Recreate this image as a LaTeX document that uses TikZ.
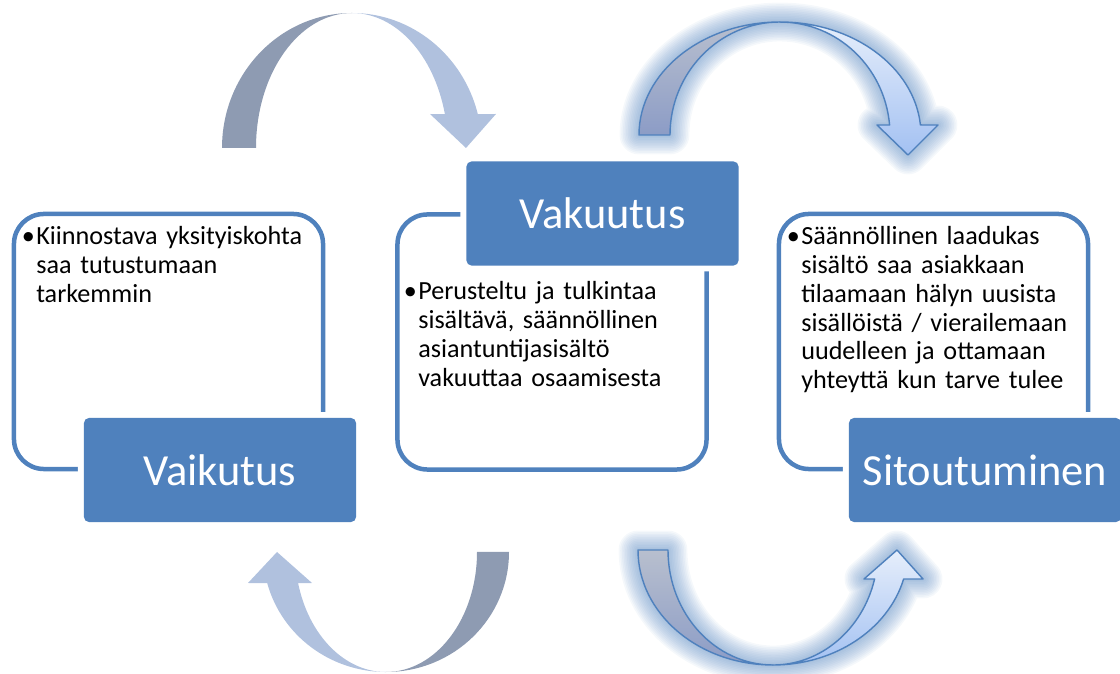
\documentclass[tikz,border=0pt]{standalone}
\usepackage{fontspec}
\setmainfont{Carlito}
\definecolor{boxBlue}{HTML}{4F81BD}
\definecolor{arrowDark}{HTML}{8E9BB2}
\definecolor{arrowLight}{HTML}{B0C1DE}
\definecolor{glowDarkTop}{HTML}{B8BFCE}
\definecolor{glowDarkBottom}{HTML}{8C9CC6}
\definecolor{glowLightTop}{HTML}{E6EEFB}
\definecolor{glowLightBottom}{HTML}{A3C1F2}
\tikzset{
  textframe/.style={draw=boxBlue, line width=3.2pt, rounded corners=0.75cm,
    minimum width=7.725cm, minimum height=6.375cm, inner sep=0pt},
  titlebox/.style={fill=boxBlue, preaction={draw=white, line width=8.5pt},
    rounded corners=0.125cm, minimum width=6.8cm, minimum height=2.6cm,
    inner sep=0pt, text=white, font=\fontsize{31.6}{38}\selectfont},
  bodytext/.style={anchor=base west, align=left, text width=8cm,
    inner sep=0pt, font=\fontsize{18.6}{20.4}\selectfont},
  arrow edge/.style={draw=boxBlue, line width=1pt, line join=round}
}
\newcommand{\bulletmark}{\llap{\makebox[0.36cm][l]{\textbullet}}}
% glow round an outlined arrow
\newcommand{\glowpart}[1]{%
  \foreach \w in {1,...,12}
    {\draw[boxBlue, line width=\w*2.3pt, opacity=0.055, line join=round] #1;}%
}
% arrow parts, in pixels of the slide
\newcommand{\tlDark}{(222,148) arc[start angle=180, end angle=270, x radius=130, y radius=135]
  arc[start angle=270, end angle=180, x radius=96, y radius=135] -- cycle}
\newcommand{\tlLight}{(352,13) arc[start angle=270, end angle=345.5, x radius=130, y radius=135]
  -- (496,114) -- (466,148) -- (430,114) -- (444.9,114.2)
  arc[start angle=345.5, end angle=270, x radius=96, y radius=135] -- cycle}
\newcommand{\trDark}{(639,135) arc[start angle=180, end angle=270, x radius=141, y radius=113]
  arc[start angle=270, end angle=180, x radius=110, y radius=113] -- cycle}
\newcommand{\trLight}{(780,22) arc[start angle=270, end angle=354.9, x radius=141, y radius=113]
  -- (938,125) -- (908,155) -- (877,125) -- (889.6,125)
  arc[start angle=354.9, end angle=270, x radius=110, y radius=113] -- cycle}
\newcommand{\blDark}{(509,552) arc[start angle=0, end angle=90, x radius=123, y radius=120]
  arc[start angle=90, end angle=0, x radius=91, y radius=120] -- cycle}
\newcommand{\blLight}{(386,672) arc[start angle=90, end angle=165, x radius=123, y radius=120]
  -- (248,583) -- (277,552) -- (312,583) -- (298.1,583.1)
  arc[start angle=165, end angle=90, x radius=91, y radius=120] -- cycle}
\newcommand{\brDark}{(638,550) arc[start angle=180, end angle=90, x radius=135, y radius=115]
  arc[start angle=90, end angle=180, x radius=105, y radius=115] -- cycle}
\newcommand{\brLight}{(773,665) arc[start angle=90, end angle=14.6, x radius=135, y radius=115]
  -- (923,579) -- (897,550) -- (864,579) -- (874.6,579)
  arc[start angle=14.6, end angle=90, x radius=105, y radius=115] -- cycle}

\begin{document}
\begin{tikzpicture}[x=0.025cm, y=-0.025cm]
\useasboundingbox (0,0) rectangle (1120,674);

% plain arrows on the left
\fill[arrowDark] \tlDark;
\fill[arrowLight] \tlLight;
\fill[arrowDark] \blDark;
\fill[arrowLight] \blLight;

% glowing arrows on the right
\glowpart{\trDark \trLight}
\glowpart{\brDark \brLight}
\shade[top color=glowDarkTop, bottom color=glowDarkBottom, arrow edge] \trDark;
\shade[top color=glowLightTop, bottom color=glowLightBottom, arrow edge] \trLight;
\shade[top color=glowDarkTop, bottom color=glowDarkBottom, arrow edge] \brDark;
\shade[top color=glowLightTop, bottom color=glowLightBottom, arrow edge] \brLight;

% frames with their text
\node[textframe] (vaikutusframe) at (168.5,341.5) {};
\node[textframe] (vakuutusframe) at (552,342) {};
\node[textframe] (sitoutumisframe) at (933.5,341.5) {};

\node[bodytext] (vaikutustext) at (36,245)
  {\bulletmark Kiinnostava yksityiskohta\\ saa tutustumaan\\ tarkemmin};
\node[bodytext] (vakuutustext) at (418,300)
  {\bulletmark Perusteltu ja tulkintaa\\ sisältävä, säännöllinen\\
   asiantuntijasisältö\\ vakuuttaa osaamisesta};
\node[bodytext] (sitoutumistext) at (801,245)
  {\bulletmark Säännöllinen laadukas\\ sisältö saa asiakkaan\\
   tilaamaan hälyn uusista\\ sisällöistä / vierailemaan\\
   uudelleen ja ottamaan\\ yhteyttä kun tarve tulee};

% title boxes
\node[titlebox] (vaikutus) at (220,470) {Vaikutus};
\node[titlebox] (vakuutus) at (602.5,213.5) {Vakuutus};
\node[titlebox] (sitoutuminen) at (985,470) {Sitoutuminen};

\end{tikzpicture}
\end{document}
